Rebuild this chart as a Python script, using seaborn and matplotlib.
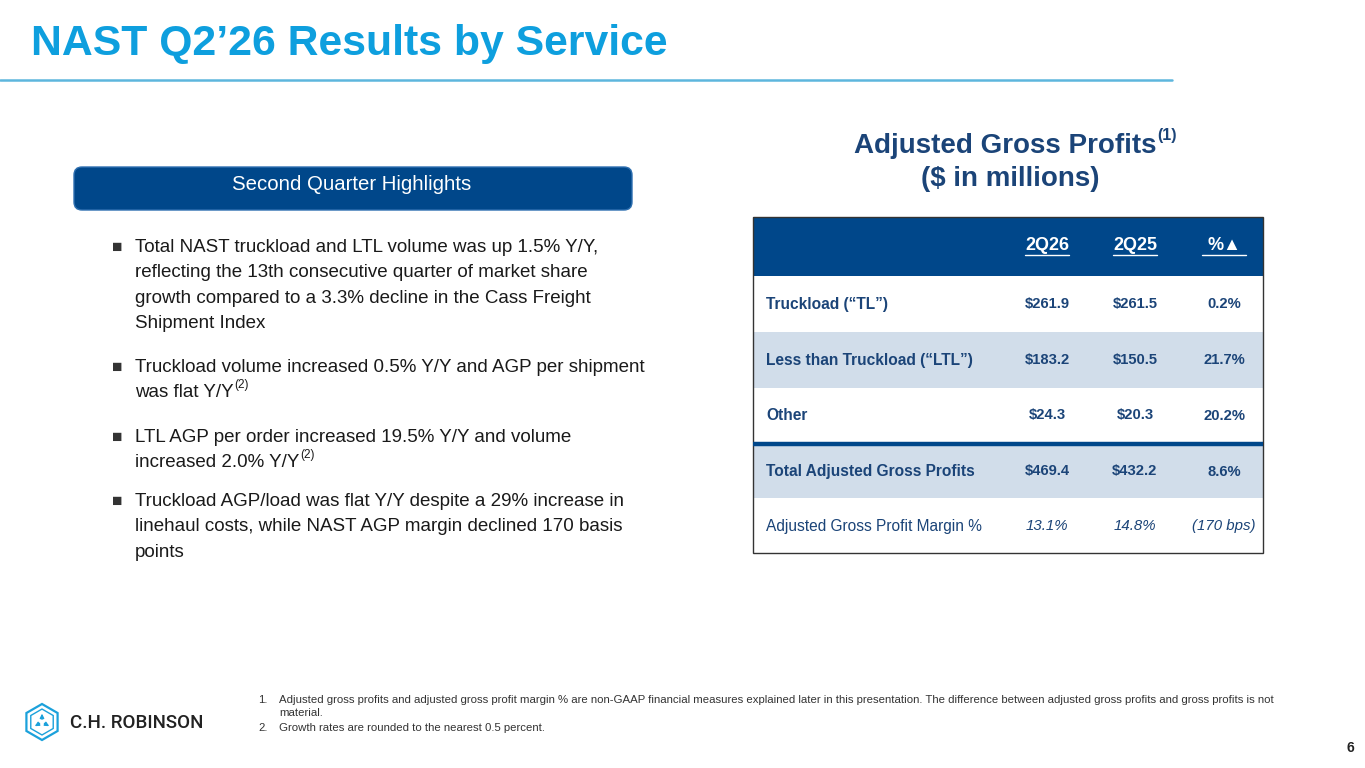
import matplotlib
matplotlib.use("Agg")
import matplotlib.pyplot as plt
import matplotlib.patches as mpatches
import numpy as np
import seaborn as sns

# data
services = ["Truckload (\u201cTL\u201d)", "Less than Truckload (\u201cLTL\u201d)", "Other",
            "Total Adjusted Gross Profits"]
agp_2q26 = [261.9, 183.2, 24.3, 469.4]
agp_2q25 = [261.5, 150.5, 20.3, 432.2]
agp_change = [0.2, 21.7, 20.2, 8.6]
margin_label = "Adjusted Gross Profit Margin %"
margin_2q26 = 13.1
margin_2q25 = 14.8
margin_change_bps = -170
col_headers = ["2Q26", "2Q25", "%\u25b2"]

bullets = [
    (["Total NAST truckload and LTL volume was up 1.5% Y/Y,",
      "reflecting the 13th consecutive quarter of market share",
      "growth compared to a 3.3% decline in the Cass Freight",
      "Shipment Index"], None),
    (["Truckload volume increased 0.5% Y/Y and AGP per shipment",
      "was flat Y/Y"], "(2)"),
    (["LTL AGP per order increased 19.5% Y/Y and volume",
      "increased 2.0% Y/Y"], "(2)"),
    (["Truckload AGP/load was flat Y/Y despite a 29% increase in",
      "linehaul costs, while NAST AGP margin declined 170 basis",
      "points"], None),
]
footnotes = [
    "Adjusted gross profits and adjusted gross profit margin % are non-GAAP financial measures explained later in this presentation. "
    "The difference between adjusted gross profits and gross profits is not\nmaterial.",
    "Growth rates are rounded to the nearest 0.5 percent.",
]

sns.set_theme(style="white")
plt.rcParams["font.family"] = ["Liberation Sans", "DejaVu Sans"]

CYAN = "#0E9FDE"
NAVY = "#00478A"
DARK = "#1B4478"
LIGHT = "#D1DDEA"

fig = plt.figure(figsize=(13.65, 7.68), dpi=100)
ax = fig.add_axes([0, 0, 1, 1])
ax.set_xlim(0, 1365)
ax.set_ylim(768, 0)
ax.axis("off")

# title + rule
ax.text(31, 55, "NAST Q2\u201926 Results by Service", color=CYAN, fontsize=30.8,
        fontweight="bold", va="baseline")
ax.plot([0, 1172], [80, 80], color="#5DB6DD", lw=1.8)

# highlights banner
ax.add_patch(mpatches.FancyBboxPatch((76, 169), 554, 39, boxstyle="round,pad=2,rounding_size=8",
                                     fc=NAVY, ec="#2E6FB0", lw=1))
ax.text(352, 185, "Second Quarter Highlights", color="white", fontsize=14.7, ha="center", va="center")

# bullets
line_h = 25.6
y_starts = [247, 367, 437, 501]
for (lines, sup), y0 in zip(bullets, y_starts):
    ax.text(112, y0, "\u25a0", fontsize=12.5, color="#333333", va="center")
    t = None
    for k, ln in enumerate(lines):
        t = ax.text(135, y0 + k * line_h, ln, fontsize=13.5, color="#1A1A1A", va="center")
    if sup:
        ax.annotate(sup, xy=(1, 0.95), xycoords=t, fontsize=8.5, color="#1A1A1A",
                    va="center", ha="left", xytext=(0.5, 0), textcoords="offset points")

# right panel title
tt = ax.text(1005, 146, "Adjusted Gross Profits", color=DARK, fontsize=20, fontweight="bold",
             ha="center", va="center")
ax.annotate("(1)", xy=(1, 0.9), xycoords=tt, fontsize=11.5, color=DARK, fontweight="bold",
            va="center", ha="left", xytext=(0.5, 0), textcoords="offset points")
ax.text(1010, 179, "($ in millions)", color=DARK, fontsize=20, fontweight="bold",
        ha="center", va="center")

# table
tx0, tx1 = 753, 1263
col_x = [1047, 1135, 1224]
ax.add_patch(mpatches.Rectangle((tx0, 217), tx1 - tx0, 59, fc=NAVY, ec="none"))
for h, cx in zip(col_headers, col_x):
    ht = ax.text(cx, 246, h, color="white", fontsize=13, fontweight="bold", ha="center", va="center")
    ax.plot([cx - 22, cx + 22], [254.5, 254.5], color="white", lw=1)

row_top = [276, 332, 388, 445]
row_h = [56, 56, 55, 53]
fills = ["white", LIGHT, "white", LIGHT]
for i, name in enumerate(services):
    ax.add_patch(mpatches.Rectangle((tx0, row_top[i]), tx1 - tx0, row_h[i], fc=fills[i], ec="none"))
    yc = row_top[i] + row_h[i] / 2
    ax.text(766, yc, name, color=DARK, fontsize=11.2, fontweight="bold", va="center")
    vals = [f"${agp_2q26[i]:.1f}", f"${agp_2q25[i]:.1f}", f"{agp_change[i]:.1f}%"]
    for v, cx in zip(vals, col_x):
        ax.text(cx, yc, v, color=DARK, fontsize=10.6, fontweight="bold", ha="center", va="center")

ax.plot([tx0, tx1], [443.5, 443.5], color=NAVY, lw=3.2, solid_capstyle="butt")

yc = 526
ax.text(766, yc, margin_label, color=DARK, fontsize=11.2, va="center")
mvals = [f"{margin_2q26:.1f}%", f"{margin_2q25:.1f}%", f"({abs(margin_change_bps)} bps)"]
for v, cx in zip(mvals, col_x):
    ax.text(cx, yc, v, color=DARK, fontsize=10.8, style="italic", ha="center", va="center")

ax.add_patch(mpatches.Rectangle((tx0, 217), tx1 - tx0, 553 - 217, fc="none", ec="#333333", lw=1))

# logo
cx, cy, r = 42, 722, 18
ax.add_patch(mpatches.RegularPolygon((cx, cy), 6, radius=r, orientation=0, fc="none", ec="#1BA1DB", lw=1.6))
ax.add_patch(mpatches.RegularPolygon((cx, cy), 6, radius=r * 0.72, orientation=0, fc="none", ec="#1BA1DB", lw=1.0))
for a in np.deg2rad([90, 210, 330]):
    ax.annotate("", xy=(cx + r * 0.62 * np.cos(a), cy - r * 0.62 * np.sin(a)), xytext=(cx, cy),
                arrowprops=dict(arrowstyle="-|>", color="#1BA1DB", lw=1.0, mutation_scale=6))
ax.text(70, 723, "C.H. ROBINSON", color="#222222", fontsize=13.5, fontweight="medium",
        family=["Roboto", "DejaVu Sans"], va="center")

# footnotes
ax.text(258, 700, "1.", fontsize=8.2, color="#333333", va="center")
ax.text(279, 700, footnotes[0].split("\n")[0], fontsize=8.2, color="#333333", va="center")
ax.text(279, 713, footnotes[0].split("\n")[1], fontsize=8.2, color="#333333", va="center")
ax.text(258, 728, "2.", fontsize=8.2, color="#333333", va="center")
ax.text(279, 728, footnotes[1], fontsize=8.2, color="#333333", va="center")

ax.text(1350, 748, "6", fontsize=10, fontweight="bold", color="#222222", ha="center", va="center")

fig.savefig("out.png", dpi=100)
